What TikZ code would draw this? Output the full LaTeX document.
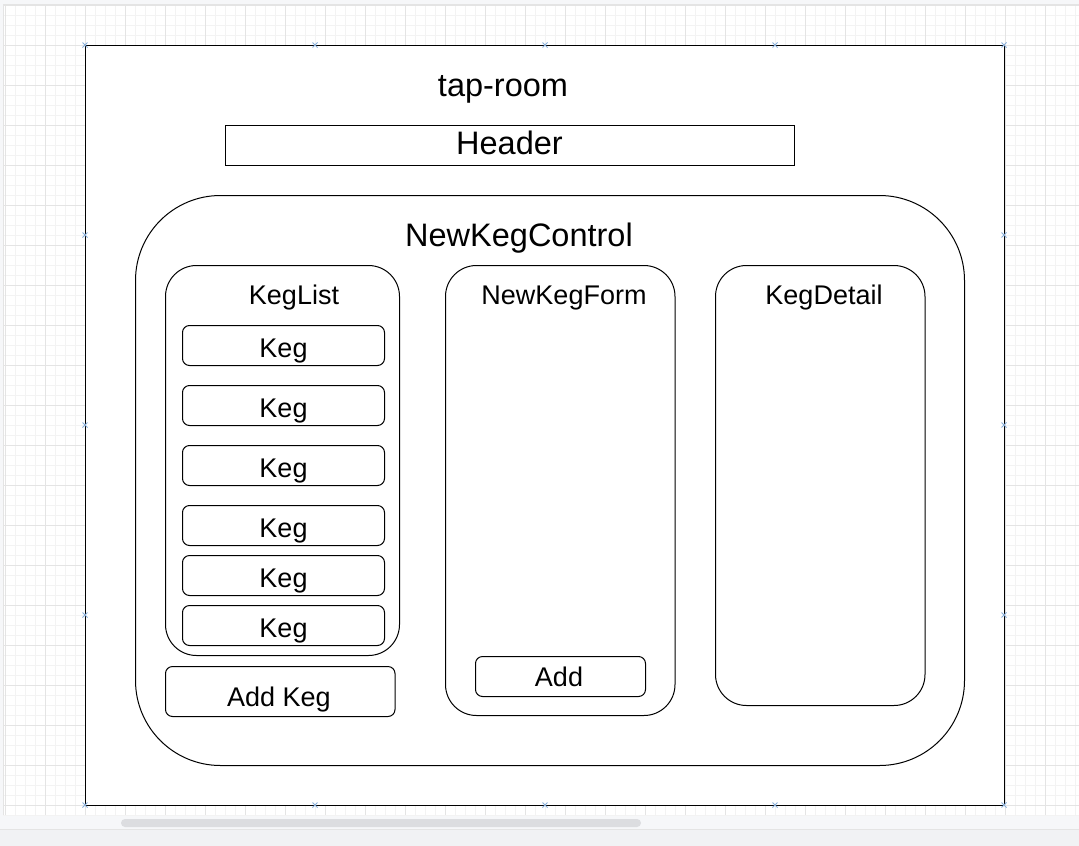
\documentclass[tikz,border=0pt]{standalone}
\usepackage{fontspec}
\setmainfont{Liberation Sans}
\usetikzlibrary{positioning, calc}
\definecolor{gridminor}{HTML}{F3F3F3}
\definecolor{gridmajor}{HTML}{E4E4E4}
\definecolor{pagegray}{HTML}{F6F7F9}
\definecolor{bargray}{HTML}{F1F2F4}
\definecolor{scrollgray}{HTML}{DCDDE0}
\definecolor{handleblue}{HTML}{8AB0DA}

\begin{document}
\begin{tikzpicture}[
    x=1pt, y=-1pt,
    box/.style={rectangle, draw, line width=1pt, anchor=north west, inner sep=0pt, fill=white},
    panel/.style={box, rounded corners=31pt},
    item/.style={box, rounded corners=7pt},
    bigtext/.style={inner sep=0pt, anchor=base, font=\fontsize{32.5}{37}\selectfont},
    smalltext/.style={inner sep=0pt, anchor=base, font=\fontsize{27}{31}\selectfont}
]
    \useasboundingbox (0,0) rectangle (1079,846);

    % Canvas and grid
    \fill[pagegray] (0,0) rectangle (1079,846);
    \fill[white] (3,4) rectangle (1079,815);
    \begin{scope}
        \clip (3,4) rectangle (1079,815);
        \foreach \x in {5,15,...,1075} \draw[gridminor, line width=1pt] (\x,4) -- (\x,815);
        \foreach \y in {5,15,...,815} \draw[gridminor, line width=1pt] (3,\y) -- (1079,\y);
        \foreach \x in {5,45,...,1045} \draw[gridmajor, line width=1pt] (\x,4) -- (\x,815);
        \foreach \y in {5,45,...,805} \draw[gridmajor, line width=1pt] (3,\y) -- (1079,\y);
    \end{scope}
    \draw[gridmajor, line width=1pt] (3,4) -- (1079,4);
    \draw[gridmajor, line width=1pt] (3,4) -- (3,815);

    % Scroll bar
    \fill[bargray] (0,829) rectangle (1079,846);
    \draw[gridmajor, line width=1pt] (0,829) -- (1079,829);
    \fill[scrollgray, rounded corners=4pt] (121,819) rectangle (641,827);

    % App frame
    \node[box, minimum width=919pt, minimum height=760pt] (app) at (85,45) {};
    \node[bigtext] (apptitle) at (503,96) {tap-room};
    \foreach \hx in {85,315,545,775,1004}
        \foreach \hy in {45,805}
            \draw[handleblue, line width=0.8pt] (\hx,\hy) +(-2.5,-2.5) -- +(2.5,2.5) +(-2.5,2.5) -- +(2.5,-2.5);
    \foreach \hy in {235,425,615}
        \foreach \hx in {85,1004}
            \draw[handleblue, line width=0.8pt] (\hx,\hy) +(-2.5,-2.5) -- +(2.5,2.5) +(-2.5,2.5) -- +(2.5,-2.5);

    % Header
    \node[box, minimum width=569pt, minimum height=40pt] (header) at (225,125) {};
    \node[bigtext] (headertext) at (509.5,154.3) {Header};

    % Control
    \node[box, rounded corners=85pt, minimum width=829pt, minimum height=570pt] (control) at (135,195) {};
    \node[bigtext] (controltext) at (519,246.7) {NewKegControl};

    % Keg list
    \node[panel, minimum width=234pt, minimum height=390pt] (keglist) at (165,265) {};
    \node[smalltext] (keglisttext) at (294,304.3) {KegList};
    \foreach \t [count=\i] in {325,385,445,505,555,605} {
        \node[item, minimum width=202pt, minimum height=40pt] (keg\i) at (182,\t) {};
        \node[smalltext] (kegtext\i) at ($(keg\i.center)+(0,11.7)$) {Keg};
    }
    \node[item, minimum width=229.5pt, minimum height=50pt] (addkeg) at (165,666) {};
    \node[smalltext] (addkegtext) at (279,706.7) {Add Keg};

    % Form
    \node[panel, minimum width=229.5pt, minimum height=450pt] (kegform) at (445,265) {};
    \node[smalltext] (kegformtext) at (564,304) {NewKegForm};
    \node[item, minimum width=170pt, minimum height=40pt] (add) at (475,656) {};
    \node[smalltext] (addtext) at (559,686) {Add};

    % Detail
    \node[panel, minimum width=209.5pt, minimum height=440pt] (kegdetail) at (715,265) {};
    \node[smalltext] (kegdetailtext) at (824,304) {KegDetail};
\end{tikzpicture}
\end{document}
